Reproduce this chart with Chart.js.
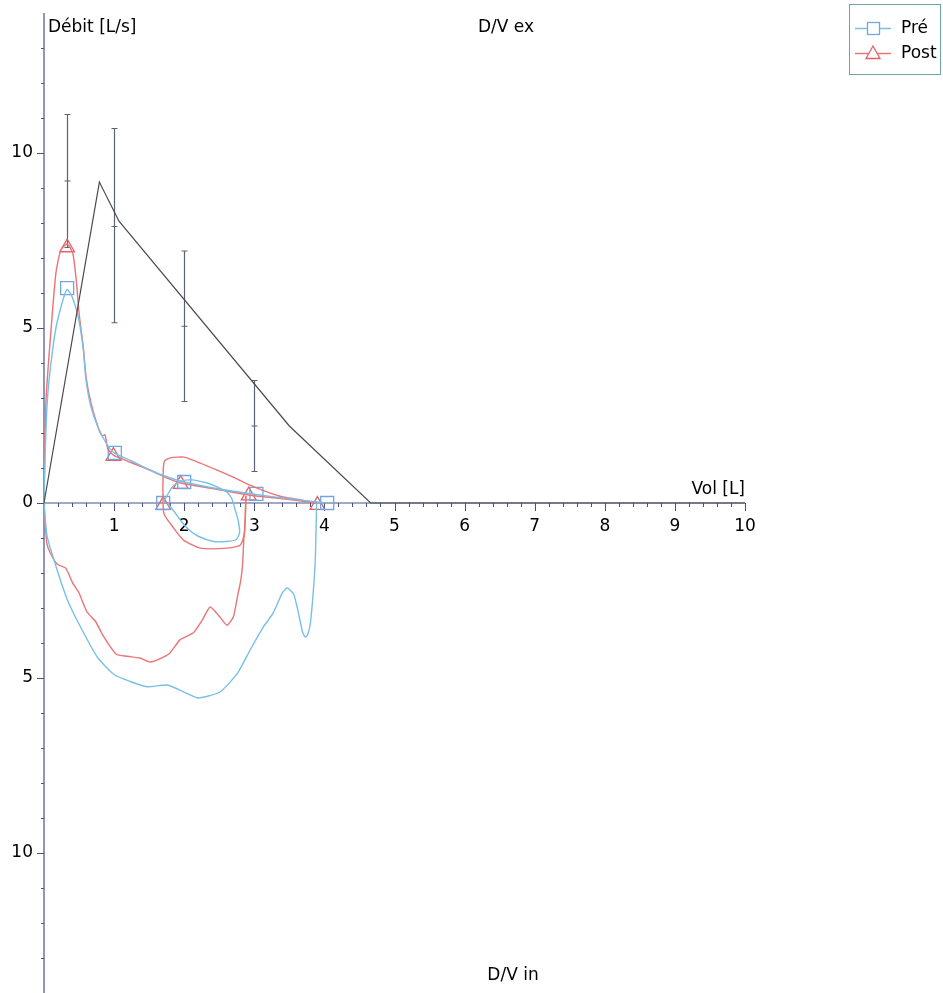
<!DOCTYPE html>
<html>
<head>
<meta charset="utf-8">
<script src="https://cdn.jsdelivr.net/npm/chart.js@4.4.1/dist/chart.umd.min.js"></script>
<style>
  html, body { margin: 0; padding: 0; background: #fff; }
  #wrap { position: relative; width: 943px; height: 993px; }
</style>
</head>
<body>
<div id="wrap"><canvas id="fv"></canvas></div>
<script>
// courbe théorique (gris)
const predVol  = [0, 0.79, 1.07, 3.5, 4.66, 10];
const predFlow = [0, 9.17, 8.05, 2.2, 0, 0];

// barres de référence
const refVol  = [0.33, 1, 2, 3];
const refHigh = [11.1, 10.7, 7.2, 3.5];
const refMean = [9.2, 7.9, 5.05, 2.2];
const refLow  = [7.3, 5.15, 2.9, 0.9];

// Pré - expiration
const preExVol  = [0, 0.02, 0.05, 0.1, 0.17, 0.27, 0.33, 0.4, 0.49, 0.56, 0.6, 0.67, 0.77, 0.89, 1.0, 1.25, 1.5, 1.75, 2.0, 2.5, 3.0, 3.5, 3.9, 4.04];
const preExFlow = [0, 1.6, 3.0, 4.0, 5.0, 5.8, 6.1, 5.9, 5.3, 4.4, 3.5, 2.75, 2.17, 1.7, 1.43, 1.2, 0.95, 0.75, 0.6, 0.4, 0.25, 0.12, 0.03, 0];
// Pré - inspiration
const preInVol  = [3.89, 3.88, 3.87, 3.84, 3.8, 3.76, 3.73, 3.69, 3.66, 3.61, 3.56, 3.47, 3.4, 3.27, 3.13, 2.94, 2.76, 2.51, 2.2, 2.03, 1.76, 1.47, 1.23, 1.0, 0.76, 0.51, 0.33, 0.13, 0.04, 0];
const preInFlow = [0, -0.8, -1.63, -2.57, -3.43, -3.77, -3.83, -3.7, -3.43, -2.97, -2.6, -2.43, -2.57, -3.14, -3.54, -4.2, -4.86, -5.4, -5.57, -5.43, -5.2, -5.25, -5.1, -4.9, -4.4, -3.5, -2.75, -1.55, -0.9, 0];
// Pré - petite boucle
const preLoopVol  = [1.7, 1.78, 1.86, 1.95, 2.1, 2.33, 2.47, 2.61, 2.68, 2.72, 2.77, 2.79, 2.74, 2.6, 2.42, 2.2, 2.06, 1.95, 1.84, 1.76];
const preLoopFlow = [0, 0.3, 0.52, 0.62, 0.66, 0.57, 0.46, 0.31, 0.12, -0.15, -0.5, -0.85, -1.05, -1.1, -1.1, -0.95, -0.75, -0.5, -0.2, 0];

// Post - expiration
const postExVol  = [0, 0.01, 0.03, 0.1, 0.17, 0.24, 0.33, 0.41, 0.46, 0.5, 0.56, 0.6, 0.67, 0.77, 0.83, 0.87, 0.91, 0.99, 1.25, 1.5, 1.75, 1.95, 2.5, 2.92, 3.5, 3.9];
const postExFlow = [0, 1.4, 3.0, 4.94, 6.57, 7.23, 7.4, 7.14, 6.37, 5.43, 4.46, 3.6, 2.86, 2.17, 1.92, 1.95, 1.55, 1.37, 1.15, 0.95, 0.72, 0.57, 0.38, 0.23, 0.1, 0];
// Post - inspiration
const postInVol  = [2.88, 2.87, 2.85, 2.83, 2.8, 2.77, 2.73, 2.7, 2.61, 2.51, 2.37, 2.26, 2.13, 1.94, 1.79, 1.61, 1.51, 1.37, 1.19, 1.03, 0.84, 0.74, 0.61, 0.5, 0.41, 0.31, 0.19, 0.09, 0.04, 0];
const postInFlow = [0.2, -0.5, -1.06, -1.83, -2.29, -2.57, -3.0, -3.26, -3.49, -3.26, -2.97, -3.34, -3.71, -3.91, -4.3, -4.49, -4.54, -4.43, -4.38, -4.32, -3.78, -3.4, -3.1, -2.57, -2.29, -1.86, -1.75, -1.43, -1.14, 0];
// Post - petite boucle
const postLoopVol  = [3.9, 3.66, 3.41, 3.19, 2.94, 2.7, 2.47, 2.23, 2.0, 1.8, 1.72, 1.7, 1.7, 1.72, 1.84, 1.99, 2.23, 2.61, 2.8, 2.86, 2.88];
const postLoopFlow = [0, 0.09, 0.17, 0.31, 0.51, 0.74, 0.94, 1.14, 1.31, 1.29, 1.2, 0.9, -0.1, -0.35, -0.69, -1.06, -1.29, -1.29, -1.2, -0.86, 0.2];

// marqueurs
const preMarkVol   = [0.33, 1.01, 2.0, 3.03, 4.04, 1.7];
const preMarkFlow  = [6.14, 1.43, 0.6, 0.26, 0, 0];
const postMarkVol  = [0.33, 0.99, 1.95, 2.92, 3.9, 1.7];
const postMarkFlow = [7.3, 1.34, 0.54, 0.21, -0.06, -0.06];

const xTicks = [1, 2, 3, 4, 5, 6, 7, 8, 9, 10];
const yTicks = [-10, -5, 0, 5, 10];

const BLUE = '#78c0e6';
const BLUE_MK = '#72a6e2';
const RED = '#ea7476';
const RED_MK = '#e26266';
const AXIS = '#46528a';
const FONT = '17px "DejaVu Sans", sans-serif';

function pts(xs, ys){ return xs.map((x, i) => ({ x: x, y: ys[i] })); }

function curve(xs, ys, color){
  return { data: pts(xs, ys), borderColor: color, borderWidth: 1.4, pointRadius: 0, showLine: true, tension: 0.2, fill: false };
}
function markers(xs, ys, color, style, r){
  return { data: pts(xs, ys), borderColor: color, backgroundColor: 'rgba(0,0,0,0)', borderWidth: 1.3, pointStyle: style, pointRadius: r, showLine: false };
}

// axes, graduations et textes
const axesPlugin = {
  id: 'axes',
  beforeDatasetsDraw(chart){
    const { ctx, scales: { x, y } } = chart;
    const x0 = x.getPixelForValue(0), y0 = y.getPixelForValue(0);
    ctx.save();
    ctx.strokeStyle = AXIS;
    ctx.lineWidth = 1.2;
    ctx.beginPath();
    ctx.moveTo(x0, y.getPixelForValue(y.max)); ctx.lineTo(x0, y.getPixelForValue(y.min));
    ctx.moveTo(x0, y0); ctx.lineTo(x.getPixelForValue(10), y0);
    ctx.stroke();
    ctx.lineWidth = 1;
    ctx.beginPath();
    for (let v = -13; v <= 13; v++) {
      const py = Math.round(y.getPixelForValue(v)) + 0.5;
      const len = v % 5 === 0 ? 7 : 3;
      ctx.moveTo(x0 - len, py); ctx.lineTo(x0, py);
    }
    for (let i = 1; i <= 50; i++) {
      const px = Math.round(x.getPixelForValue(i * 0.2)) + 0.5;
      const len = i % 5 === 0 ? 8 : 4;
      ctx.moveTo(px, y0); ctx.lineTo(px, y0 + len);
    }
    ctx.stroke();

    ctx.fillStyle = '#000';
    ctx.font = FONT;
    ctx.textBaseline = 'middle';
    ctx.textAlign = 'right';
    yTicks.forEach(v => ctx.fillText(String(Math.abs(v)), x0 - 11, y.getPixelForValue(v)));
    ctx.textAlign = 'center';
    ctx.textBaseline = 'top';
    xTicks.forEach(v => ctx.fillText(String(v), x.getPixelForValue(v), y0 + 15));

    ctx.textAlign = 'left';
    ctx.textBaseline = 'middle';
    ctx.fillText('Débit [L/s]', x0 + 4, 28);
    ctx.textAlign = 'right';
    ctx.textBaseline = 'bottom';
    ctx.fillText('Vol [L]', x.getPixelForValue(10), y0 - 5);
    ctx.textAlign = 'center';
    ctx.textBaseline = 'middle';
    ctx.fillText('D/V ex', 506, 28);
    ctx.fillText('D/V in', 513, 976);

    // barres de référence
    ctx.strokeStyle = '#5d6174';
    ctx.lineWidth = 1.2;
    ctx.beginPath();
    refVol.forEach((v, i) => {
      const px = Math.round(x.getPixelForValue(v)) + 0.5;
      const hi = y.getPixelForValue(refHigh[i]), lo = y.getPixelForValue(refLow[i]), mid = y.getPixelForValue(refMean[i]);
      ctx.moveTo(px, hi); ctx.lineTo(px, lo);
      [hi, mid, lo].forEach(py => { ctx.moveTo(px - 3, py); ctx.lineTo(px + 3, py); });
    });
    ctx.stroke();
    ctx.restore();
  },
  afterDraw(chart){
    const ctx = chart.ctx;
    ctx.save();
    ctx.strokeStyle = '#6aa3a8';
    ctx.lineWidth = 1;
    ctx.strokeRect(849.5, 4.5, 91, 70);
    ctx.font = FONT;
    ctx.textAlign = 'left';
    ctx.textBaseline = 'middle';
    ctx.fillStyle = '#000';
    // Pré
    ctx.strokeStyle = BLUE; ctx.lineWidth = 1.3;
    ctx.beginPath(); ctx.moveTo(855, 28.5); ctx.lineTo(891, 28.5); ctx.stroke();
    ctx.strokeStyle = BLUE_MK; ctx.fillStyle = '#fff';
    ctx.fillRect(867, 22, 12, 12); ctx.strokeRect(867.5, 22.5, 12, 12);
    ctx.fillStyle = '#000';
    ctx.fillText('Pré', 901, 29);
    // Post
    ctx.strokeStyle = RED;
    ctx.beginPath(); ctx.moveTo(855, 53.5); ctx.lineTo(891, 53.5); ctx.stroke();
    ctx.strokeStyle = RED_MK; ctx.fillStyle = '#fff';
    ctx.beginPath(); ctx.moveTo(873, 46); ctx.lineTo(880, 58.5); ctx.lineTo(866, 58.5); ctx.closePath();
    ctx.fill(); ctx.stroke();
    ctx.fillStyle = '#000';
    ctx.fillText('Post', 901, 54);
    ctx.restore();
  }
};

new Chart(document.getElementById('fv'), {
  type: 'line',
  data: {
    datasets: [
      { data: pts(predVol, predFlow), borderColor: '#4a4a4a', borderWidth: 1.2, pointRadius: 0, tension: 0, fill: false },
      curve(preExVol, preExFlow, BLUE),
      curve(preInVol, preInFlow, BLUE),
      curve(preLoopVol, preLoopFlow, BLUE),
      curve(postExVol, postExFlow, RED),
      curve(postInVol, postInFlow, RED),
      curve(postLoopVol, postLoopFlow, RED),
      markers(preMarkVol, preMarkFlow, BLUE_MK, 'rect', 9.2),
      markers(postMarkVol, postMarkFlow, RED_MK, 'triangle', 8.5)
    ]
  },
  options: {
    animation: false,
    responsive: true,
    maintainAspectRatio: false,
    parsing: false,
    layout: { autoPadding: false, padding: { left: 44, right: 198, top: 13, bottom: 0 } },
    scales: {
      x: { type: 'linear', min: 0, max: 10, display: false },
      y: { type: 'linear', min: -14, max: 14, display: false }
    },
    plugins: { legend: { display: false }, tooltip: { enabled: false } }
  },
  plugins: [axesPlugin]
});
</script>
</body>
</html>
